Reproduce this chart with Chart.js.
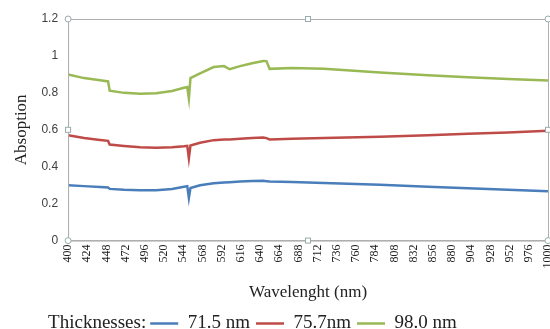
<!DOCTYPE html>
<html lang="en">
<head>
    <meta charset="UTF-8">
    <title>Absorption spectra</title>
    <script src="https://cdn.jsdelivr.net/npm/chart.js@4"></script>
    <style>
        html, body { margin: 0; padding: 0; background: #fff; }
        .chart-box { width: 550px; height: 329px; }
    </style>
</head>
<body>
    <div class="chart-box">
        <canvas id="chart"></canvas>
    </div>

    <script>
        // Wavelength samples (nm) and absorption
        const wavelengths = [400, 420, 440, 450, 452, 470, 490, 510, 530, 545, 549, 551, 553, 565, 582, 595, 602, 615, 630, 644, 648, 652, 680, 720, 790, 850, 900, 950, 1000];
        const abs715 = [0.300, 0.295, 0.290, 0.288, 0.280, 0.275, 0.273, 0.273, 0.280, 0.292, 0.295, 0.231, 0.285, 0.300, 0.310, 0.314, 0.316, 0.320, 0.323, 0.324, 0.322, 0.320, 0.318, 0.312, 0.302, 0.292, 0.283, 0.275, 0.267];
        const abs757 = [0.570, 0.556, 0.545, 0.540, 0.520, 0.512, 0.505, 0.503, 0.505, 0.511, 0.513, 0.446, 0.515, 0.530, 0.544, 0.548, 0.548, 0.552, 0.555, 0.558, 0.555, 0.548, 0.552, 0.556, 0.562, 0.570, 0.578, 0.586, 0.595];
        const abs980 = [0.900, 0.880, 0.868, 0.862, 0.812, 0.800, 0.795, 0.798, 0.810, 0.828, 0.832, 0.770, 0.880, 0.905, 0.940, 0.945, 0.928, 0.945, 0.960, 0.973, 0.972, 0.930, 0.935, 0.930, 0.910, 0.895, 0.885, 0.875, 0.867];
        const seriesNames = ['71.5 nm', '75.7nm', '98.0 nm'];
        const seriesColors = ['#4A7EBB', '#BE4B48', '#98B954'];
        const yTicks = [0, 0.2, 0.4, 0.6, 0.8, 1, 1.2];

        const toPoints = vals => vals.map((v, i) => ({ x: wavelengths[i], y: v }));
        const allSeries = [abs715, abs757, abs980];
        const LEGEND_SHIFT = 24;

        // Plot frame plus the small selection handles around it
        const frame = {
            id: 'frame',
            afterDatasetsDraw(chart) {
                const { ctx, chartArea: a } = chart;
                ctx.save();
                ctx.strokeStyle = '#b0b0b0';
                ctx.lineWidth = 1;
                ctx.strokeRect(a.left + 0.5, a.top + 0.5, a.right - a.left, a.bottom - a.top);
                const mx = (a.left + a.right) / 2, my = (a.top + a.bottom) / 2;
                ctx.fillStyle = '#fff';
                ctx.strokeStyle = '#9aa';
                [[a.left, a.top], [a.right, a.top], [a.left, a.bottom], [a.right, a.bottom]].forEach(([x, y]) => {
                    ctx.beginPath();
                    ctx.arc(x, y, 3, 0, Math.PI * 2);
                    ctx.fill();
                    ctx.stroke();
                });
                [[mx, a.top], [mx, a.bottom], [a.left, my], [a.right, my]].forEach(([x, y]) => {
                    ctx.fillRect(x - 2.5, y - 2.5, 5, 5);
                    ctx.strokeRect(x - 2.5, y - 2.5, 5, 5);
                });
                ctx.restore();
            }
        };

        // "Thicknesses:" caption in front of the legend items
        const legendCaption = {
            id: 'legendCaption',
            afterLayout(chart) {
                const lg = chart.legend;
                lg.left += LEGEND_SHIFT;
                lg.right += LEGEND_SHIFT;
                lg.legendHitBoxes.forEach(b => { b.left += LEGEND_SHIFT; });
            },
            afterDraw(chart) {
                const lg = chart.legend;
                if (!lg || !lg.legendHitBoxes.length) return;
                const box = lg.legendHitBoxes[0];
                const ctx = chart.ctx;
                ctx.save();
                ctx.font = '19px "Liberation Serif"';
                ctx.fillStyle = '#222';
                ctx.textAlign = 'right';
                ctx.textBaseline = 'middle';
                ctx.fillText('Thicknesses:', box.left - 4, box.top + box.height / 2);
                ctx.restore();
            }
        };

        new Chart(document.getElementById('chart'), {
            type: 'line',
            data: {
                datasets: allSeries.map((vals, i) => ({
                    label: seriesNames[i],
                    data: toPoints(vals),
                    borderColor: seriesColors[i],
                    backgroundColor: seriesColors[i],
                    borderWidth: 2.5,
                    pointRadius: 0,
                    tension: 0
                }))
            },
            options: {
                responsive: true,
                maintainAspectRatio: false,
                animation: false,
                layout: { padding: { left: 11, right: 2, top: 19, bottom: -14 } },
                plugins: {
                    tooltip: { enabled: false },
                    legend: {
                        position: 'bottom',
                        labels: {
                            usePointStyle: true,
                            pointStyle: 'line',
                            pointStyleWidth: 28,
                            boxHeight: 18,
                            padding: 6,
                            color: '#222',
                            font: { family: '"Liberation Serif"', size: 19 }
                        }
                    }
                },
                scales: {
                    x: {
                        type: 'linear',
                        min: 400,
                        max: 1000,
                        grid: { display: false, drawTicks: false },
                        border: { color: '#b0b0b0' },
                        afterFit: axis => { axis.paddingRight = 0; },
                        ticks: {
                            stepSize: 24,
                            autoSkip: false,
                            minRotation: 90,
                            maxRotation: 90,
                            padding: 4,
                            color: '#222',
                            font: { family: '"Liberation Serif"', size: 12 },
                            callback: v => String(v)
                        },
                        title: {
                            display: true,
                            text: 'Wavelenght (nm)',
                            color: '#222',
                            font: { family: '"Liberation Serif"', size: 17 },
                            padding: { top: 10, bottom: 5 }
                        }
                    },
                    y: {
                        min: 0,
                        max: 1.2,
                        grid: { display: false, drawTicks: false },
                        border: { color: '#b0b0b0' },
                        afterBuildTicks: axis => { axis.ticks = yTicks.map(v => ({ value: v })); },
                        ticks: {
                            padding: 10,
                            color: '#404040',
                            font: { family: '"Liberation Sans"', size: 12 },
                            callback: v => String(+v.toFixed(1))
                        },
                        title: {
                            display: true,
                            text: 'Absoption',
                            color: '#222',
                            font: { family: '"Liberation Serif"', size: 17 },
                            padding: { top: 0, bottom: 0 }
                        }
                    }
                }
            },
            plugins: [frame, legendCaption]
        });
    </script>
</body>
</html>
